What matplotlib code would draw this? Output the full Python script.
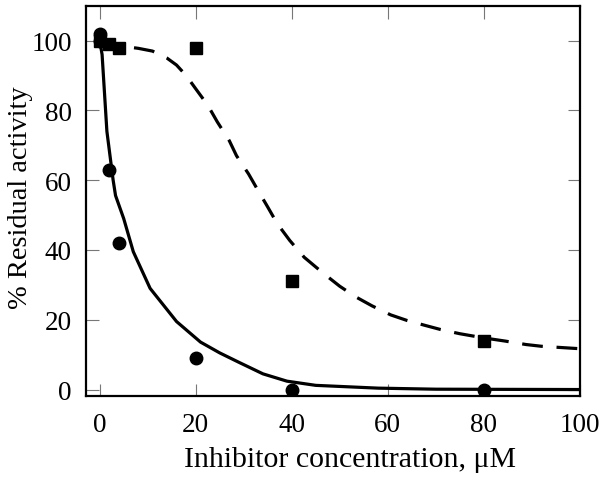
import matplotlib
matplotlib.use("Agg")
import matplotlib.pyplot as plt

# Data points
circle_x = [0, 0, 2, 4, 20, 40, 80]
circle_y = [102, 100, 63, 42, 9, 0, 0]
square_x = [0, 2, 4, 20, 40, 80]
square_y = [100, 99, 98, 98, 31, 14]

# Fitted curves
solid_x = [0, 0.5, 1.5, 2.8, 3.3, 5, 7, 10.5, 16, 21, 25, 29, 34, 39, 45, 58, 70, 100]
solid_y = [100, 96, 74, 60, 55.6, 49, 39.5, 29, 19.5, 13.6, 10.5, 7.8, 4.5, 2.4, 1.2, 0.4, 0.1, 0]
dashed_x = [0, 4, 8, 11, 14, 16, 18, 20, 22.5, 24.5, 27, 28.5, 31, 33, 35, 37, 39.6,
            42.6, 46.5, 50, 53.4, 56.7, 60.6, 64, 68, 71, 75, 80, 84.4, 88.8, 92, 100]
dashed_y = [99, 98.5, 97.8, 97, 95, 93, 90, 86.2, 81.5, 76.7, 71.3, 67, 61.8, 57, 52.3,
            47.5, 42.7, 37.9, 33.4, 29.6, 26.5, 24, 21.4, 19.8, 18.3, 17.2, 16, 14.8,
            13.9, 12.9, 12.4, 11.7]

x_ticks = [0, 20, 40, 60, 80, 100]
y_ticks = [0, 20, 40, 60, 80, 100]

plt.rcParams['font.family'] = ['Liberation Serif', 'DejaVu Serif']

fig = plt.figure(figsize=(6.04, 4.81), dpi=100)
ax = fig.add_axes([0.142, 0.175, 0.818, 0.811])

ax.plot(solid_x, solid_y, color='black', lw=2.3, solid_capstyle='butt')
ax.plot(dashed_x, dashed_y, color='black', lw=2.3, linestyle=(0, (6.5, 4.3)))
ax.plot(circle_x, circle_y, 'o', color='black', markersize=9, linestyle='none')
ax.plot(square_x, square_y, 's', color='black', markersize=9, linestyle='none')

ax.set_xlim(-2.9, 100)
ax.set_ylim(-1.8, 110)
ax.set_xticks(x_ticks)
ax.set_yticks(y_ticks)
ax.tick_params(direction='in', length=9, width=0.8, color='#777777',
               top=True, right=True, labelsize=19.5)
ax.tick_params(axis='x', pad=12)
ax.tick_params(axis='y', pad=10)
for s in ax.spines.values():
    s.set_linewidth(1.6)

ax.set_xlabel('Inhibitor concentration, μM', fontsize=21.5)
ax.xaxis.set_label_coords(0.535, -0.128)
ax.set_ylabel('% Residual activity', fontsize=20.5)
ax.yaxis.set_label_coords(-0.107, 0.51)

fig.savefig('out.png', dpi=100)
